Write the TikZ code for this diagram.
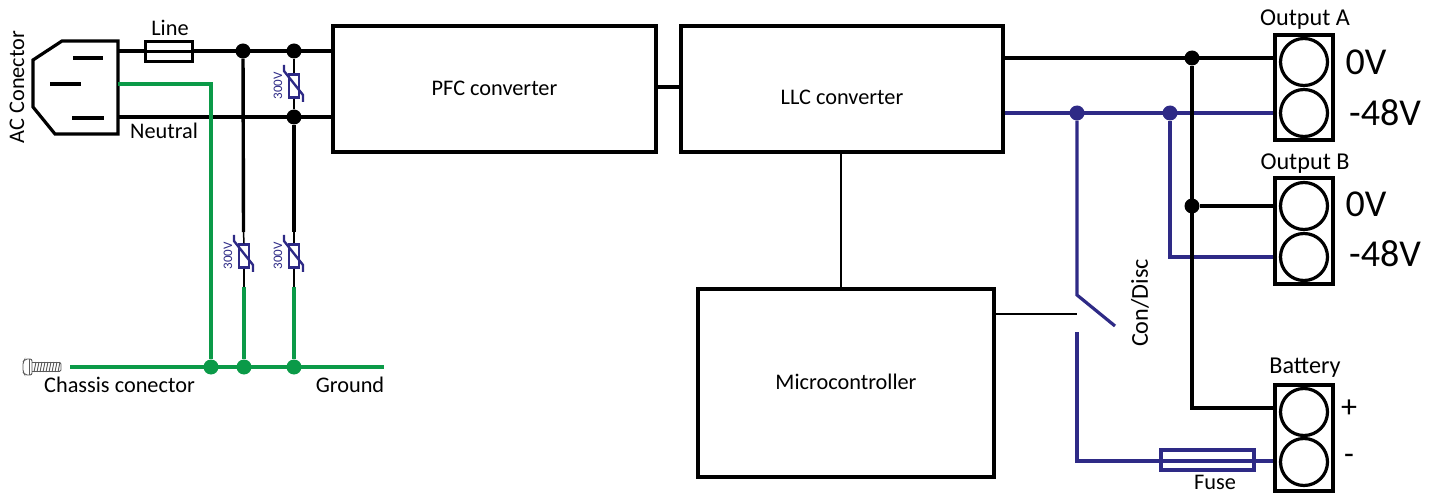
\documentclass[tikz,border=0pt]{standalone}
\usepackage{fontspec}
\setmainfont{Carlito}
\definecolor{wireblue}{HTML}{2E2A86}
\definecolor{wiregreen}{HTML}{0B9A48}
\tikzset{
  wire/.style={line width=3.4pt,draw=black},
  thin wire/.style={line width=1.5pt,draw=black},
  bwire/.style={line width=3.2pt,draw=wireblue},
  gwire/.style={line width=4pt,draw=wiregreen},
  dotk/.style={circle,fill=black,inner sep=0pt,minimum size=15pt},
  dotb/.style={circle,fill=wireblue,inner sep=0pt,minimum size=15pt},
  dotg/.style={circle,fill=wiregreen,inner sep=0pt,minimum size=15pt},
  lab/.style={font=\fontsize{22.3}{23}\selectfont,inner sep=0pt},
  biglab/.style={font=\fontsize{24.2}{25}\selectfont,inner sep=0pt},
  vlab/.style={font=\fontsize{38}{38}\selectfont,inner sep=0pt},
  signlab/.style={font=\fontsize{32}{32}\selectfont,inner sep=0pt},
  smalllab/.style={font=\fontsize{13}{13}\selectfont,text=wireblue,inner sep=0pt,rotate=90},
  term/.style={circle,draw=black,line width=3.2pt,minimum size=47pt,inner sep=0pt},
  vrect/.style={draw=wireblue,line width=2.4pt,minimum width=10pt,minimum height=23pt,inner sep=0pt},
  vslash/.style={draw=wireblue,line width=2.4pt},
  mainblock/.style={draw=black,line width=3.2pt,inner sep=0pt},
  connblock/.style={draw=black,line width=3.6pt,inner sep=0pt,minimum width=58pt},
  screwline/.style={draw=black!65,line width=.9pt},
}
\begin{document}
\begin{tikzpicture}[x=1pt,y=-1pt]
\useasboundingbox (0,0) rectangle (1437,494);
% main blocks
\node[mainblock,minimum width=323pt,minimum height=126pt] (pfc) at (494.5,89) {};
\node[lab] (pfct) at (494.5,88) {PFC converter};
\node[mainblock,minimum width=322pt,minimum height=126pt] (llc) at (842,89) {};
\node[lab] (llct) at (842,97) {LLC converter};
\node[mainblock,minimum width=296pt,minimum height=188pt] (mcu) at (846,383) {};
\node[lab] (mcut) at (846,382) {Microcontroller};
% AC connector
\draw[line width=3.2pt,line join=miter] (33,60) -- (62,41) -- (118,41) -- (118,134) -- (55,134) -- (33,107) -- cycle;
\coordinate (acL) at (118,51);
\coordinate (acN) at (118,117);
\coordinate (acG) at (118,84.5);
\draw[line width=3.6pt] (73,58) -- (103,58) (50,84) -- (81,84) (72,118) -- (104,118);
\node[lab,rotate=90] (aclab) at (17,87) {AC Conector};
% nodes of the mains side
\node[dotk] (j1) at (243,51) {};
\node[dotk] (j2) at (294,51) {};
\node[dotk] (j3) at (294,117) {};
\coordinate (pfcL) at (pfc.west |- j1);
\coordinate (pfcN) at (pfc.west |- j3);
\draw[wire] (acL) -- (pfcL);
\draw[wire] (acN) -- (pfcN);
\node[draw=black,line width=3.2pt,fill=white,inner sep=0pt,minimum width=47pt,minimum height=20pt] (fuseL) at (169,51.5) {};
\draw[wire] (fuseL.west) -- (fuseL.east);
\node[lab] (linelab) at (170,27.5) {Line};
\node[lab] (neutlab) at (164,131) {Neutral};
% green
\node[dotg] (g1) at (211,367) {};
\node[dotg] (g2) at (244,367) {};
\node[dotg] (g3) at (294,367) {};
\coordinate (gl) at (70,367);
\coordinate (gr) at (384,367);
\coordinate (gc) at (211,84.5);
\draw[gwire] (gl) -- (gr);
\draw[gwire,line join=miter] (acG) -- (gc) -- (g1);
\node[lab] (chlab) at (119.5,385) {Chassis conector};
\node[lab] (gndlab) at (350,385) {Ground};
% varistors
\node[vrect] (v1) at (294,86) {};
\node[vrect] (v2) at (244,256) {};
\node[vrect] (v3) at (294,256) {};
\draw[thin wire] (j2) -- (v1);
\draw[thin wire] (v1) -- (j3);
\coordinate (v2a) at (243.5,232);
\coordinate (v3a) at (294,232);
\coordinate (v2b) at (244,287);
\coordinate (v3b) at (294,287);
\draw[wire] (j1) -- (v2a);
\draw[wire] (j3) -- (v3a);
\draw[thin wire] (v2a) -- (v2.north);
\draw[thin wire] (v3a) -- (v3.north);
\draw[thin wire] (v2.south) -- (v2b);
\draw[thin wire] (v3.south) -- (v3b);
\draw[gwire] (v2b) -- (g2);
\draw[gwire] (v3b) -- (g3);
\foreach \v in {v1,v2,v3}{
  \draw[vslash] ([shift={(-10,-21)}]\v.center) -- ([shift={(-10,-15)}]\v.center) -- ([shift={(9,9)}]\v.center) -- ([shift={(9,16)}]\v.center);
}
\node[smalllab] (v1t) at (278,86) {300V};
\node[smalllab] (v2t) at (228,256) {300V};
\node[smalllab] (v3t) at (278,256) {300V};
% screw
\draw[screwline,rounded corners=2pt] (32,359) -- (25,359) -- (23,362) -- (23,372) -- (25,375) -- (32,375) -- cycle;
\draw[screwline] (29,359) -- (29,375);
\draw[screwline,rounded corners=1.5pt] (32,362.5) -- (61,362.5) -- (61,371.5) -- (32,371.5);
\foreach \i in {0,...,8}{
  \draw[screwline] ({34+\i*3},372) -- ({36+\i*3},362);
}
% PFC - LLC
\draw[wire] (pfc.east |- 0,87) -- (llc.west |- 0,87);
% LLC - MCU
\draw[thin wire] (llc.south -| 841,0) -- (mcu.north -| 841,0);
% terminals
\node[connblock,minimum height=105pt] (oa) at (1304,87.5) {};
\node[term] (oa1) at (1304,62) {};
\node[term] (oa2) at (1304,113) {};
\node[connblock,minimum height=106pt] (ob) at (1304,231) {};
\node[term] (ob1) at (1304,206) {};
\node[term] (ob2) at (1304,257) {};
\node[connblock,minimum height=106pt] (bt) at (1304,438) {};
\node[term] (bt1) at (1304,412) {};
\node[term] (bt2) at (1304,462) {};
\node[biglab] (oal) at (1305,20) {Output A};
\node[biglab] (obl) at (1305,164) {Output B};
\node[biglab] (btl) at (1305,368) {Battery};
\node[vlab] (o1) at (1366,62) {0V};
\node[vlab] (o2) at (1385,113) {-48V};
\node[vlab] (o3) at (1366,204) {0V};
\node[vlab] (o4) at (1385,254) {-48V};
\node[signlab] (o5) at (1349,409) {+};
\node[signlab] (o6) at (1349,459) {-};
% output wiring
\node[dotk] (k1) at (1192,58) {};
\node[dotk] (k2) at (1192,206) {};
\node[dotb] (b1) at (1077,113) {};
\node[dotb] (b2) at (1170,113) {};
\coordinate (k3) at (1192,408);
\coordinate (b3) at (1170,257);
\coordinate (s1) at (1077,295);
\coordinate (s2) at (1115,326);
\coordinate (s3) at (1077,332);
\coordinate (s4) at (1077,461);
\coordinate (s5) at (1077,314);
\draw[wire] (llc.east |- k1) -- (oa.west |- k1);
\draw[bwire] (llc.east |- b1) -- (oa.west |- b1);
\draw[bwire,line join=miter] (b2) -- (b3) -- (ob.west |- b3);
\draw[wire,line join=miter] (k1) -- (k3) -- (bt.west |- k3);
\draw[wire] (k2) -- (ob.west |- k2);
\draw[bwire,line join=miter] (b1) -- (s1) -- (s2);
\draw[bwire,line join=miter] (s3) -- (s4) -- (bt.west |- s4);
\draw[thin wire] (mcu.east |- s5) -- (s5);
\node[draw=wireblue,line width=3.2pt,inner sep=0pt,minimum width=93pt,minimum height=20pt] (fuseB) at (1207.5,460) {};
\node[lab] (fuselab) at (1215,482.5) {Fuse};
\node[biglab,rotate=90] (cd) at (1140,303) {Con/Disc};
\end{tikzpicture}
\end{document}
